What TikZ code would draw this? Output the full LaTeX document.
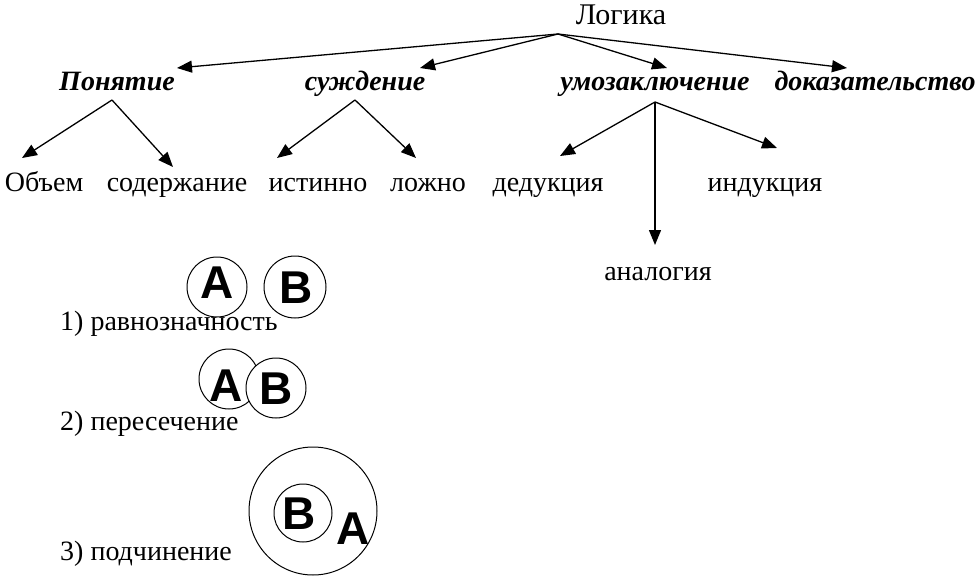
\documentclass[tikz,border=0pt]{standalone}
\usepackage{fontspec}
\setmainfont{Liberation Serif}
\newfontfamily\letterfont{Liberation Sans}
\usetikzlibrary{arrows.meta}
\begin{document}
\begin{tikzpicture}[x=1pt,y=-1pt,
  arr/.style={line width=1.3pt,-{Triangle[length=15pt,width=12pt]}},
  lbl/.style={inner sep=0pt,anchor=base,font=\fontsize{28}{28}\selectfont},
  head/.style={inner sep=0pt,anchor=base,font=\fontsize{28}{28}\selectfont\bfseries\itshape},
  circ/.style={draw,circle,line width=1pt,inner sep=0pt},
  let/.style={inner sep=0pt,font=\fontsize{46}{46}\selectfont\letterfont\bfseries}]
\useasboundingbox (0,0) rectangle (980,578);
\fill[white] (0,0) rectangle (980,578);
% top
\node[lbl,font=\fontsize{30}{30}\selectfont] (log) at (621,25) {Логика};
\coordinate (apex) at (558,34);
\node[head] (pon) at (117,90) {Понятие};
\node[head] (suj) at (365,90) {суждение};
\node[head] (umo) at (655,90) {умозаключение};
\node[head] (dok) at (875,90) {доказательство};
\coordinate (tpon) at (177,68);
\coordinate (tsuj) at (420,68);
\coordinate (tumo) at (667,68);
\coordinate (tdok) at (847,68);
\draw[arr] (apex) -- (tpon);
\draw[arr] (apex) -- (tsuj);
\draw[arr] (apex) -- (tumo);
\draw[arr] (apex) -- (tdok);
% second level
\node[lbl] (obj) at (44,191) {Объем};
\node[lbl] (sod) at (177,191) {содержание};
\node[lbl] (ist) at (318,191) {истинно};
\node[lbl] (loj) at (428,191) {ложно};
\node[lbl] (ded) at (548,191) {дедукция};
\node[lbl] (ind) at (765,191) {индукция};
\node[lbl] (ana) at (658,280) {аналогия};
\coordinate (bpon) at (112,100);
\coordinate (bsuj) at (355,100);
\coordinate (bumo) at (655,102);
\coordinate (tobj) at (22,158);
\coordinate (tsod) at (173,167);
\coordinate (tist) at (277,158);
\coordinate (tloj) at (416,158);
\coordinate (tded) at (560,156);
\coordinate (tind) at (777,148);
\coordinate (tana) at (655,245);
\draw[arr] (bpon) -- (tobj);
\draw[arr] (bpon) -- (tsod);
\draw[arr] (bsuj) -- (tist);
\draw[arr] (bsuj) -- (tloj);
\draw[arr] (bumo) -- (tded);
\draw[arr] (bumo) -- (tind);
\draw[arr] (bumo) -- (tana);
% circles row 1
\node[circ,minimum size=60pt] (ca1) at (217,287) {};
\node[let] (la1) at (217,283) {A};
\node[circ,minimum size=62pt] (cb1) at (295,287) {};
\node[let] (lb1) at (296,288) {B};
\node[lbl,anchor=base west] (t1) at (60,330) {1) равнозначность};
% row 2
\node[circ,minimum size=60pt] (ca2) at (229,379) {};
\node[circ,minimum size=60pt,fill=white] (cb2) at (276,388) {};
\node[let] (la2) at (226,386) {A};
\node[let] (lb2) at (276,389) {B};
\node[lbl,anchor=base west] (t2) at (60,430) {2) пересечение};
% row 3
\node[circ,minimum size=128pt] (ca3) at (313,511) {};
\node[circ,minimum size=58pt] (cb3) at (303,513) {};
\node[let] (lb3) at (299,514) {B};
\node[let] (la3) at (353,529) {A};
\node[lbl,anchor=base west] (t3) at (60,560) {3) подчинение};
\end{tikzpicture}
\end{document}
